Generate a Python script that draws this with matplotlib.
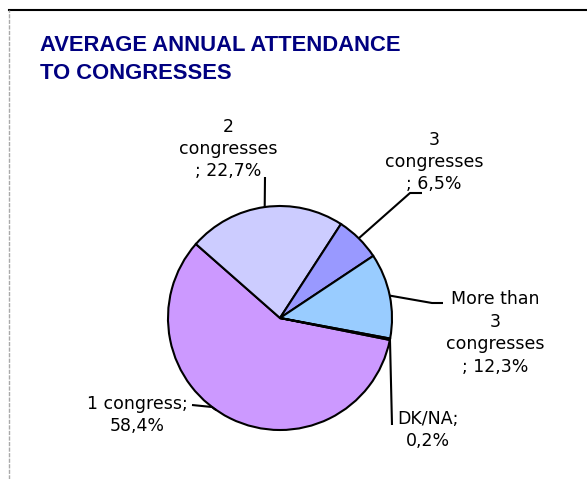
import numpy as np
import matplotlib
matplotlib.use("Agg")
import matplotlib.pyplot as plt

# ---- data ----
categories = ["1 congress", "2 congresses", "3 congresses", "More than 3 congresses", "DK/NA"]
values = [58.4, 22.7, 6.5, 12.3, 0.2]
label_texts = ["1 congress;\n58,4%", "2\ncongresses\n; 22,7%", "3\ncongresses\n; 6,5%",
               "More than\n3\ncongresses\n; 12,3%", "DK/NA;\n0,2%"]
colors = ["#CC99FF", "#CCCCFF", "#9999FF", "#99CCFF", "#FFFFCC"]
title = "AVERAGE ANNUAL ATTENDANCE\nTO CONGRESSES"

W, H = 587, 479
DPI = 100
CX, CY, R = 280, 318, 112  # pie centre / radius in pixels

fig = plt.figure(figsize=(W / DPI, H / DPI), dpi=DPI)
fig.patch.set_facecolor("white")
ax = fig.add_axes([0, 0, 1, 1])

wedges, _ = ax.pie(values, colors=colors, startangle=-11.3, counterclock=False,
                   radius=1.0, center=(0, 0),
                   wedgeprops=dict(edgecolor="black", linewidth=1.5))

ax.set_xlim(-CX / R, (W - CX) / R)
ax.set_ylim((CY - H) / R, CY / R)
ax.set_aspect("auto")
ax.axis("off")


def p2d(px, py):
    return ((px - CX) / R, (CY - py) / R)


# layout: anchor fraction along wedge, leader path (pixels), text centre (pixels)
anchor_frac = [0.46, 0.5, 0.5, 0.5, 0.5]
leader_paths = [
    [(212, 407), (192, 405)],
    [(265, 177)],
    [(410, 193), (422, 193)],
    [(432, 303), (443, 303)],
    [(392, 425)],
]
text_pos = [(137, 415), (228, 149), (434, 162), (495, 333), (428, 430)]

for w, frac, path, tp, lab in zip(wedges, anchor_frac, leader_paths, text_pos, label_texts):
    ang = np.deg2rad(w.theta1 + frac * (w.theta2 - w.theta1))
    start = (np.cos(ang), np.sin(ang))
    pts = [start] + [p2d(*p) for p in path]
    xs = [p[0] for p in pts]
    ys = [p[1] for p in pts]
    ax.plot(xs, ys, color="black", lw=1.5, solid_capstyle="butt", zorder=3)
    tx, ty = p2d(*tp)
    ax.text(tx, ty, lab, ha="center", va="center", multialignment="center",
            fontsize=12.5, family=["DejaVu Sans"], color="black", linespacing=1.32)

# title
fig.text(40 / W, 1 - 35 / H, title, ha="left", va="top", fontsize=15.8, fontweight="bold",
         family=["Liberation Sans Narrow", "Liberation Sans", "DejaVu Sans"],
         color="#000080", linespacing=1.45)

# frame lines
fig.add_artist(plt.Line2D([9 / W, 1], [1 - 10 / H, 1 - 10 / H], transform=fig.transFigure,
                          color="black", lw=1.5))
fig.add_artist(plt.Line2D([9 / W, 9 / W], [0, 1 - 10 / H], transform=fig.transFigure,
                          color="#AAAAAA", lw=1.0, linestyle=(0, (3, 1))))

fig.savefig("out.png", dpi=DPI, facecolor="white")
